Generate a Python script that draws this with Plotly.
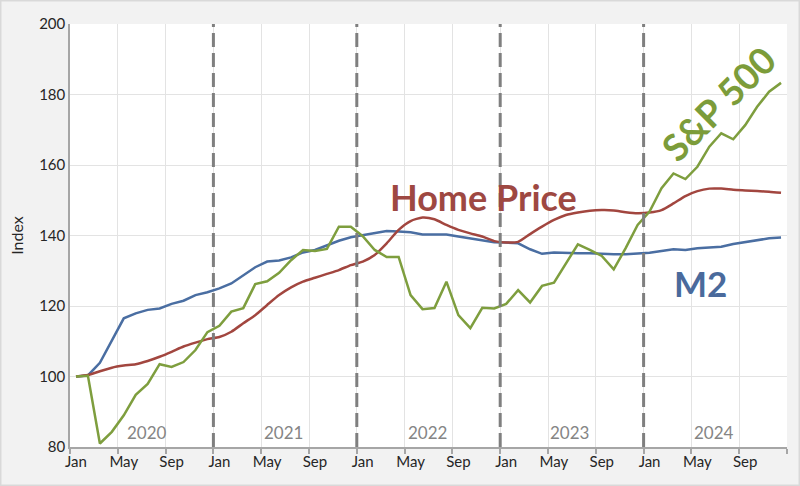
import plotly.graph_objects as go

# Monthly index values, Jan 2020 .. Dec 2024 (Jan 2020 = 100)
months = ["Jan", "Feb", "Mar", "Apr", "May", "Jun",
          "Jul", "Aug", "Sep", "Oct", "Nov", "Dec"] * 5
years = ["2020", "2021", "2022", "2023", "2024"]

sp500 = [100, 100.2, 81, 84.3, 89, 94.8, 97.9, 103.5, 102.7, 104.1, 107.5, 112.6,
         114.4, 118.4, 119.4, 126.2, 127, 129.4, 133, 135.9, 135.6, 136.2, 142.5, 142.5,
         139.8, 135.9, 133.9, 133.9, 123.1, 119.1, 119.4, 126.9, 117.4, 113.7, 119.5, 119.3,
         120.6, 124.5, 121, 125.7, 126.6, 132.1, 137.5, 135.9, 134.2, 130.4, 136.4, 143,
         146.8, 153.4, 157.6, 156, 159.5, 165.2, 169, 167.3, 171.3, 176.5, 180.8, 183.3]

m2 = [100, 100.3, 103.9, 110.4, 116.5, 117.9, 118.9, 119.3, 120.6, 121.5, 123.1, 123.9,
      125, 126.4, 128.8, 131, 132.6, 132.9, 133.8, 135.2, 135.9, 137.3, 138.5, 139.5,
      140.1, 140.8, 141.3, 141.1, 140.9, 140.3, 140.3, 140.3, 139.7, 139.1, 138.7, 138.1,
      138, 137.8, 136.1, 134.8, 135.2, 135, 135, 135, 134.8, 134.7, 134.7, 134.8,
      135.1, 135.6, 136.1, 135.9, 136.4, 136.6, 136.8, 137.6, 138.1, 138.5, 139.2, 139.4]

home_price = [100, 100.4, 101.5, 102.5, 103.1, 103.5, 104.4, 105.6, 107, 108.5, 109.6, 110.6,
              111.2, 112.7, 115.1, 117.4, 120.3, 123.1, 125.3, 126.9, 128, 129.1, 130.2, 131.6,
              132.6, 134.5, 137.8, 141.6, 144.1, 145.1, 144.6, 143, 141.6, 140.6, 139.7, 138.4,
              138, 138.2, 140.4, 142.5, 144.4, 145.8, 146.5, 147, 147.2, 147.1, 146.6, 146.3,
              146.5, 147.2, 149.1, 151.2, 152.6, 153.3, 153.3, 153, 152.8, 152.6, 152.4, 152.1]

x = list(range(len(months)))

BLUE = "#4A6EA2"
RED = "#A2463F"
GREEN = "#7E9E3E"
FONT = "Lato"

fig = go.Figure()

fig.add_trace(go.Scatter(x=x, y=m2, mode="lines", name="M2",
                         line=dict(color=BLUE, width=2.5)))
fig.add_trace(go.Scatter(x=x, y=home_price, mode="lines", name="Home Price",
                         line=dict(color=RED, width=2.5, shape="spline", smoothing=0.6)))
fig.add_trace(go.Scatter(x=x, y=sp500, mode="lines", name="S&P 500",
                         line=dict(color=GREEN, width=2.5)))

# dashed year separators
for k in range(1, len(years)):
    fig.add_shape(type="line", xref="x", yref="paper",
                  x0=12 * k - 0.5, x1=12 * k - 0.5, y0=0, y1=1,
                  line=dict(color="#7F7F7F", width=3, dash="14px,6px"))

# year labels
year_x = [5.95, 17.35, 29.4, 41.3, 53.4]
for yr, xx in zip(years, year_x):
    fig.add_annotation(x=xx, y=84.2, text=yr, showarrow=False,
                       font=dict(family=FONT, size=17, color="#858585"))

# series labels
fig.add_annotation(x=34.1, y=151, text="<b>Home Price</b>", showarrow=False,
                   font=dict(family=FONT, size=36, color="#9E4842"))
fig.add_annotation(x=52.3, y=126.5, text="<b>M2</b>", showarrow=False,
                   font=dict(family=FONT, size=35, color="#4A6A9C"))
fig.add_annotation(x=53.7, y=177.5, text="<b>S&P 500</b>", showarrow=False, textangle=-45,
                   font=dict(family=FONT, size=37, color="#7C9C3A"))

# outer border
fig.add_shape(type="rect", xref="paper", yref="paper",
              x0=-70 / 717 + 0.001, x1=1 + 13 / 717 - 0.001,
              y0=-39 / 423 + 0.002, y1=1 + 24 / 423 - 0.002,
              line=dict(color="#D9D9D9", width=1.5), layer="below")

fig.update_layout(
    width=800, height=486,
    margin=dict(l=70, r=13, t=24, b=39),
    paper_bgcolor="#F2F2F2",
    plot_bgcolor="white",
    showlegend=False,
    font=dict(family=FONT, size=15, color="#333333"),
    xaxis=dict(
        range=[-0.5, len(months) - 0.5],
        tickvals=x[::4],
        ticktext=months[::4],
        ticks="",
        showgrid=False,
        zeroline=False,
        showline=True, linecolor="#A6A6A6", linewidth=1.5,
        tickfont=dict(size=15, color="#262626"),
        minor=dict(tickvals=[i - 0.5 for i in range(0, len(months) + 1, 4)],
                   ticks="outside", ticklen=5, tickcolor="#A6A6A6", tickwidth=1.5,
                   showgrid=True, gridcolor="#E3E3E3", gridwidth=1),
    ),
    yaxis=dict(
        range=[80, 200],
        dtick=20,
        showgrid=True, gridcolor="#E3E3E3", gridwidth=1,
        zeroline=False,
        showline=True, linecolor="#A6A6A6", linewidth=1.5,
        ticks="",
        tickfont=dict(size=15, color="#262626"),
        title=dict(text="Index", font=dict(size=16, color="#262626"), standoff=12),
    ),
)

fig.write_html("out.html", config={"displayModeBar": False},
               post_script="document.body.style.margin='0';")
